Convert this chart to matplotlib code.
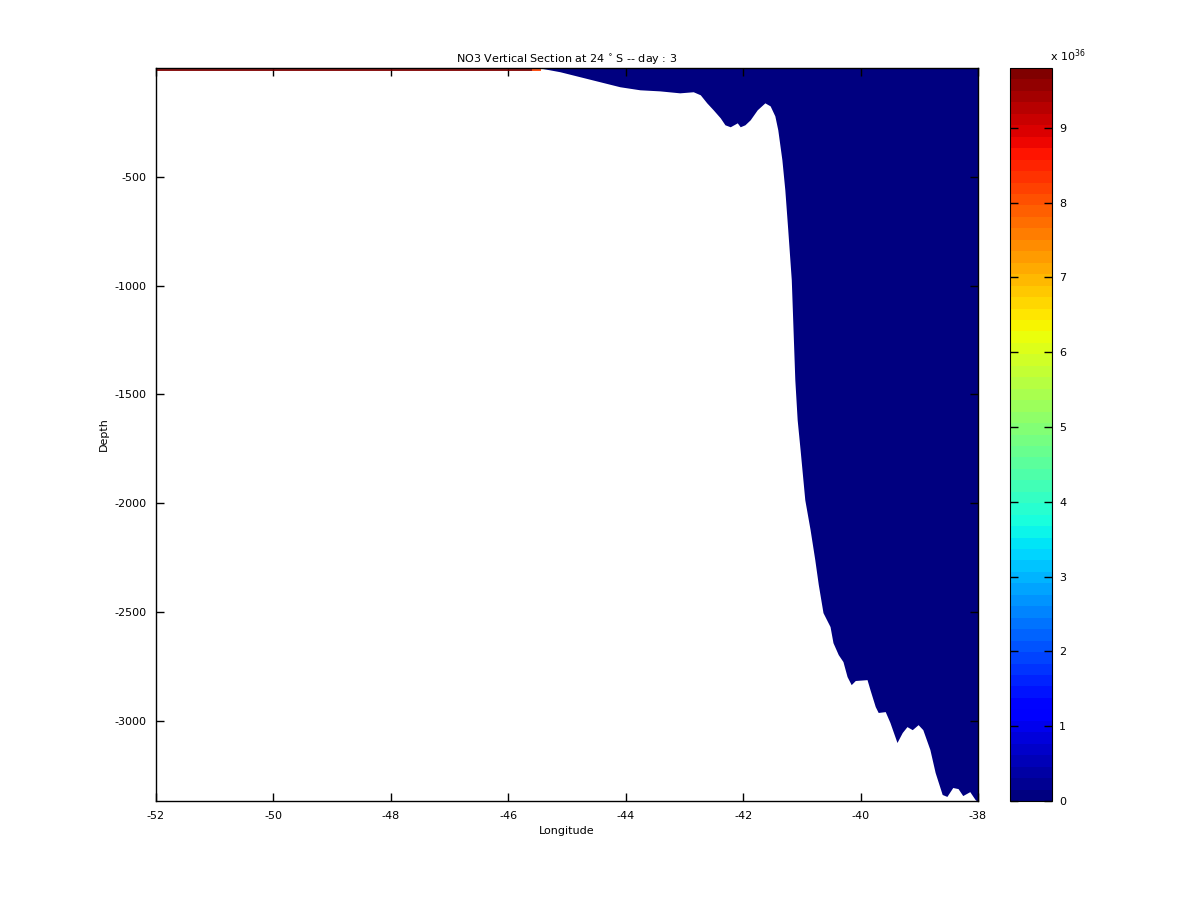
import numpy as np
import matplotlib
matplotlib.use('Agg')
import matplotlib.pyplot as plt
from matplotlib.colors import Normalize
from matplotlib.cm import ScalarMappable

plt.rcParams['axes.unicode_minus'] = False
plt.rcParams['font.size'] = 8

# bathymetry profile (ocean bottom)
lon = [-52.0, -45.46, -45.12, -44.78, -44.44, -44.10, -43.76, -43.42, -43.08, -42.85,
       -42.73, -42.62, -42.51, -42.39, -42.31, -42.22, -42.10, -42.05, -41.97, -41.88,
       -41.76, -41.63, -41.54, -41.46, -41.41, -41.34, -41.29, -41.24, -41.18, -41.15,
       -41.12, -41.08, -41.03, -40.95, -40.86, -40.78, -40.72, -40.64, -40.52, -40.47,
       -40.38, -40.30, -40.23, -40.16, -40.09, -39.89, -39.84, -39.75, -39.70, -39.58,
       -39.50, -39.38, -39.29, -39.21, -39.12, -39.02, -38.94, -38.82, -38.73, -38.61,
       -38.53, -38.43, -38.34, -38.26, -38.14, -38.05, -38.0]
bottom = [0, 0, -17, -40, -63, -86, -100, -105, -114, -109,
          -123, -160, -192, -229, -261, -270, -252, -270, -261, -238,
          -192, -160, -174, -220, -284, -422, -560, -744, -974, -1204,
          -1433, -1617, -1755, -1985, -2122, -2260, -2375, -2504, -2568, -2642,
          -2697, -2729, -2798, -2835, -2816, -2812, -2858, -2936, -2963, -2959,
          -3009, -3101, -3055, -3028, -3042, -3019, -3042, -3133, -3239, -3340,
          -3349, -3308, -3313, -3345, -3327, -3363, -3375]

# surface fill values over land (units of 1e36)
surf_lon = [-52.0, -45.6, -45.45]
surf_val = [9.8, 9.8, 8.2]

no3_val = 0.0
vmax = 9.8

cmap = plt.get_cmap('jet', 64)
norm = Normalize(0, vmax)

fig = plt.figure(figsize=(12, 9), dpi=100)
ax = fig.add_axes([0.13, 0.11, 0.685, 0.8144])
cax = fig.add_axes([0.8417, 0.11, 0.035, 0.8144])

ax.fill_between(lon, bottom, 0, color=cmap(norm(no3_val)), linewidth=0)
for i in range(len(surf_lon) - 1):
    ax.plot(surf_lon[i:i + 2], [-9, -9], color=cmap(norm(surf_val[i + 1])), linewidth=1.3,
            solid_capstyle='butt')

ax.set_xlim(-52, -38)
ax.set_ylim(-3370, 0)
ax.set_xticks(np.arange(-52, -37, 2))
ax.set_yticks(np.arange(-3000, 0, 500))
ax.tick_params(direction='in', top=True, right=True, length=6, width=1, pad=7)
for s in ax.spines.values():
    s.set_linewidth(1)
ax.set_xlabel('Longitude', labelpad=4)
ax.set_ylabel('Depth')
ax.set_title('NO3 Vertical Section at 24 $^{\\circ}$ S -- day : 3', fontsize=8, pad=4)

cb = fig.colorbar(ScalarMappable(norm=norm, cmap=cmap), cax=cax, ticks=range(0, 10))
cax.tick_params(direction='in', left=True, right=True, length=6, width=1, pad=5)
cax.text(0.95, 1.005, 'x 10$^{36}$', transform=cax.transAxes, ha='left', va='bottom', fontsize=8)

fig.savefig('out.png')
